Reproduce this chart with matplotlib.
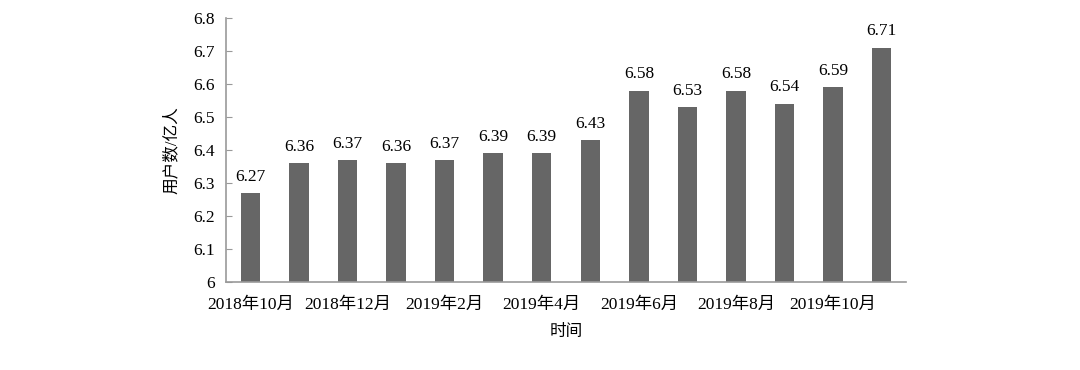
import matplotlib
matplotlib.use("Agg")
import matplotlib.pyplot as plt

months = ["2018年10月", "2018年11月", "2018年12月", "2019年1月", "2019年2月", "2019年3月",
          "2019年4月", "2019年5月", "2019年6月", "2019年7月", "2019年8月", "2019年9月",
          "2019年10月", "2019年11月"]
users = [6.27, 6.36, 6.37, 6.36, 6.37, 6.39, 6.39, 6.43, 6.58, 6.53, 6.58, 6.54, 6.59, 6.71]
yticks = [6, 6.1, 6.2, 6.3, 6.4, 6.5, 6.6, 6.7, 6.8]
ytick_labels = ["6", "6.1", "6.2", "6.3", "6.4", "6.5", "6.6", "6.7", "6.8"]

plt.rcParams['font.family'] = ['Liberation Serif', 'Noto Sans CJK SC']

fig = plt.figure(figsize=(10.8, 3.7), dpi=100)
ax = fig.add_axes([226/1080, 1-282/370, 680/1080, 264/370])

x = list(range(len(users)))
bars = ax.bar(x, users, width=0.4, color="#666666", zorder=2)
for xi, v in zip(x, users):
    ax.annotate(f"{v:.2f}", (xi, v), xytext=(0, 6), textcoords="offset points",
                ha="center", va="bottom", fontsize=12.5)

ax.set_xlim(-0.5, len(users) - 0.5)
ax.set_ylim(6, 6.8)
ax.set_yticks(yticks)
ax.set_yticklabels(ytick_labels, fontsize=12.5)
ax.set_xticks(x[::2])
ax.set_xticklabels(months[::2], fontsize=12.5)
ax.tick_params(axis="x", length=0, pad=11)
ax.tick_params(axis="y", direction="in", length=4, color="#999999", pad=8)

for s in ["top", "right"]:
    ax.spines[s].set_visible(False)
for s in ["left", "bottom"]:
    ax.spines[s].set_color("#999999")
    ax.spines[s].set_linewidth(1.2)

ax.set_ylabel("用户数/亿人", fontsize=12, labelpad=10)
ax.set_xlabel("时间", fontsize=12, labelpad=8)

fig.savefig("out.png", dpi=100)
